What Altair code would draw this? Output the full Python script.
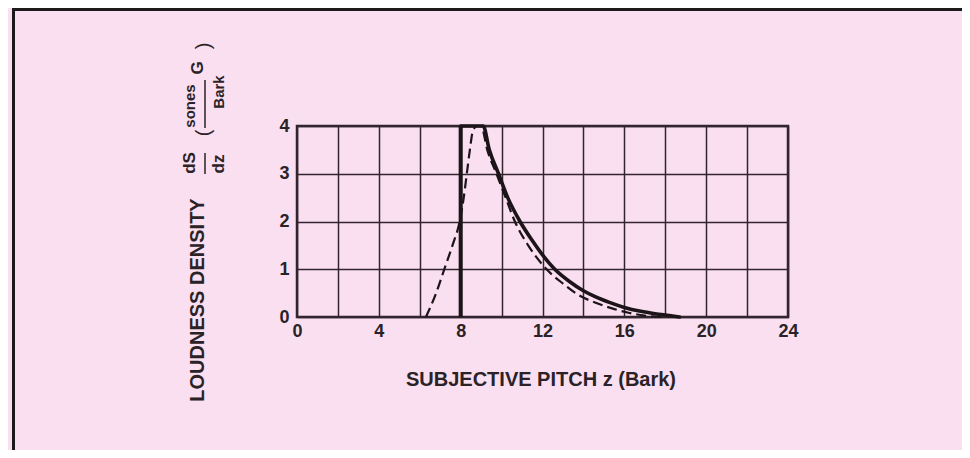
import altair as alt
import pandas as pd

# ---- data ----
x_labels = [0, 4, 8, 12, 16, 20, 24]
x_grid = list(range(0, 25, 2))
y_ticks = [0, 1, 2, 3, 4]

# solid curve: vertical edge at z = 8, then flat top and decay
edge_z = [8.0]
edge_bottom = [0.0]
edge_top = [4.0]
solid_z = [8.0, 8.6, 9.1, 9.4, 9.85, 10.3, 10.9, 11.5, 12.0, 12.6, 13.3,
           14.0, 14.6, 15.3, 16.0, 16.8, 17.5, 18.2, 18.7]
solid_s = [4.0, 4.0, 4.0, 3.5, 3.0, 2.5, 2.0, 1.6, 1.3, 1.0, 0.75,
           0.55, 0.42, 0.3, 0.2, 0.12, 0.07, 0.03, 0.0]

# dashed curve
dashed_z = [6.3, 6.8, 7.2, 7.6, 7.95, 8.15, 8.3, 8.45, 8.6, 8.8, 9.0, 9.3,
            9.75, 10.2, 10.65, 11.3, 12.2, 13.0, 13.8, 14.6, 15.4, 16.2, 17.0, 17.8]
dashed_s = [0.0, 0.5, 1.0, 1.5, 2.0, 2.5, 3.0, 3.5, 3.9, 4.0, 4.0, 3.5,
            3.0, 2.5, 2.0, 1.5, 1.0, 0.7, 0.45, 0.3, 0.18, 0.09, 0.03, 0.0]

df_solid = pd.DataFrame({"z": solid_z, "s": solid_s})
df_dashed = pd.DataFrame({"z": dashed_z, "s": dashed_s})
df_edge = pd.DataFrame({"z": edge_z, "s": edge_bottom, "s2": edge_top})
one = pd.DataFrame({"a": [0]})

# ---- styling ----
INK = "#1c1418"
GRID = "#33252f"
TXT = "#2a2226"
PINK = "#f9dff0"
FONT = "Liberation Sans"

xscale = alt.Scale(domain=[0, 24], nice=False, zero=False)
yscale = alt.Scale(domain=[0, 4], nice=False)

xaxis = alt.Axis(values=x_grid,
                 labelExpr="datum.value % 4 == 0 ? datum.label : ''",
                 grid=True, gridColor=GRID, gridWidth=1.5, gridOpacity=1,
                 ticks=False, domain=False, title=None,
                 labelFont=FONT, labelFontSize=18, labelFontWeight="bold",
                 labelColor=TXT, labelPadding=5, labelFlush=False)
yaxis = alt.Axis(values=y_ticks, grid=True, gridColor=GRID, gridWidth=1.5,
                 gridOpacity=1, ticks=False, domain=False, title=None,
                 labelFont=FONT, labelFontSize=18, labelFontWeight="bold",
                 labelColor=TXT, labelPadding=8, labelFlush=False)

X = alt.X("z:Q", scale=xscale, axis=xaxis)
Y = alt.Y("s:Q", scale=yscale, axis=yaxis)

solid = alt.Chart(df_solid).mark_line(
    color=INK, strokeWidth=3.6, interpolate="monotone", strokeCap="round"
).encode(x=X, y=Y)

dashed = alt.Chart(df_dashed).mark_line(
    color=INK, strokeWidth=2.2, interpolate="monotone", strokeDash=[10, 5]
).encode(x=X, y=Y)

edge = alt.Chart(df_edge).mark_rule(color=INK, strokeWidth=4).encode(
    x=X, y=Y, y2="s2:Q")

# ---- frame of the figure (page coords minus plot origin 297,126) ----
frame_left = alt.Chart(one).mark_rule(color="#1e1a1c", strokeWidth=3).encode(
    x=alt.value(-283.5), y=alt.value(-118), y2=alt.value(324))
frame_top = alt.Chart(one).mark_rule(color="#1e1a1c", strokeWidth=3).encode(
    x=alt.value(-285), x2=alt.value(665), y=alt.value(-116.5))


def txt(text, x, y, size, angle=0, weight="bold"):
    return alt.Chart(one).mark_text(
        text=text, font=FONT, fontSize=size, fontWeight=weight, color=TXT,
        angle=angle, align="center", baseline="middle"
    ).encode(x=alt.value(x), y=alt.value(y))


x_title = txt("SUBJECTIVE PITCH z (Bark)", 244, 254, 20)
y_title = txt("LOUDNESS DENSITY", -99, 174, 20, 270)
dS = txt("dS", -107, 37, 17, 270)
dz = txt("dz", -78, 38, 17, 270)
frac1 = alt.Chart(one).mark_rule(color=TXT, strokeWidth=1.5).encode(
    x=alt.value(-92), y=alt.value(27), y2=alt.value(48))
lpar = txt("(", -93, 7, 20, 270, "normal")
sones = txt("sones", -107, -20, 15, 270)
G = txt("G", -99, -58, 17, 270)
bark = txt("Bark", -78, -34, 15, 270)
frac2 = alt.Chart(one).mark_rule(color=TXT, strokeWidth=1.5).encode(
    x=alt.value(-92), y=alt.value(2), y2=alt.value(-46))
rpar = txt(")", -93, -80, 20, 270, "normal")

chart = alt.layer(
    frame_left, frame_top, dashed, solid, edge,
    x_title, y_title, dS, dz, frac1, lpar, sones, G, bark, frac2, rpar
).properties(
    width=491, height=191,
    background=PINK,
    padding={"left": 289, "top": 118, "right": 174, "bottom": 133},
    autosize=alt.AutoSizeParams(type="none"),
).configure_view(stroke=GRID, strokeWidth=2.5)

chart.save("out.html", embed_options={"renderer": "svg", "actions": False})
